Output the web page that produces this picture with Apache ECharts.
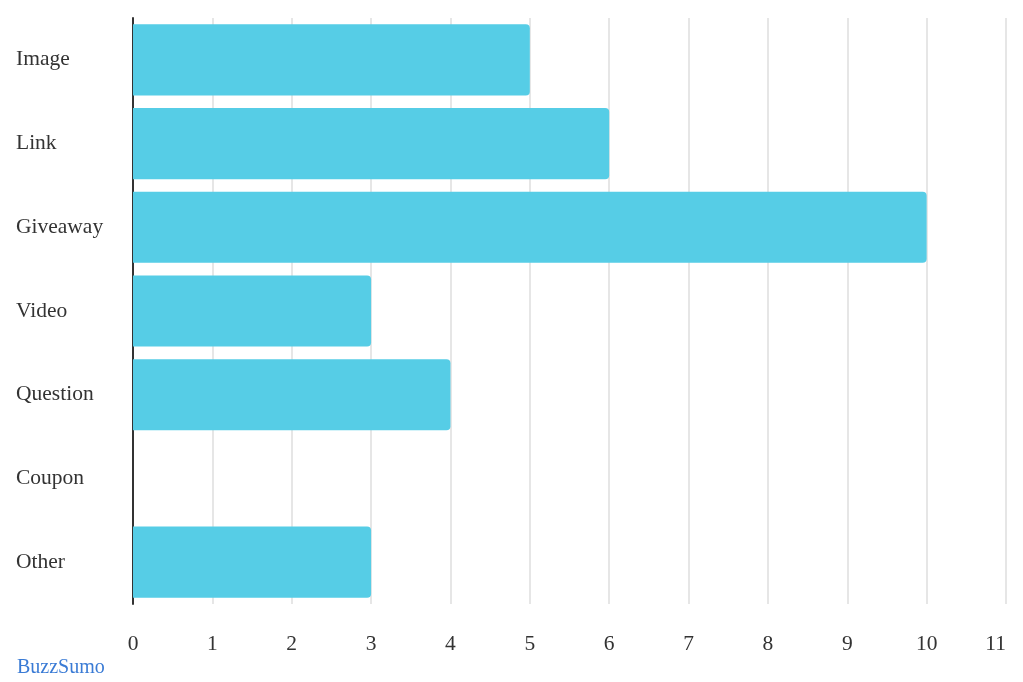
<!DOCTYPE html>
<html><head><meta charset="utf-8">
<script src="https://cdn.jsdelivr.net/npm/echarts@6/dist/echarts.min.js"></script>
<style>html,body{margin:0;padding:0;background:#fff}#c{width:1023px;height:682px}</style>
</head><body><div id="c"></div>
<script>
const categories = ["Image","Link","Giveaway","Video","Question","Coupon","Other"];
const values = [5,6,10,3,4,0,3];
const chart = echarts.init(document.getElementById('c'));
chart.setOption({
  animation:false,
  textStyle:{fontFamily:'Liberation Serif'},
  grid:{left:133,right:17,top:18,bottom:78},
  graphic:[{type:'text',left:17,top:658,style:{text:'BuzzSumo',fill:'#3a7bd5',font:'20px "Liberation Serif"'}}],
  xAxis:{type:'value',min:0,max:11,interval:1,
    axisLine:{show:false},axisTick:{show:false},
    splitLine:{show:true,lineStyle:{color:'#e6e6e6',width:2}},
    axisLabel:{color:'#333',fontSize:21.5,fontFamily:'Liberation Serif',margin:29,alignMaxLabel:'right'}},
  yAxis:{type:'category',data:categories,inverse:true,
    axisLine:{show:true,lineStyle:{color:'#333',width:2}},axisTick:{show:false},
    axisLabel:{color:'#333',fontSize:21.5,fontFamily:'Liberation Serif',align:'left',margin:117,padding:[9,0,0,0]}},
  series:[{type:'bar',data:values,barWidth:'85%',
    itemStyle:{color:'#56cde6',borderRadius:[0,4,4,0]}}]
});
</script></body></html>
